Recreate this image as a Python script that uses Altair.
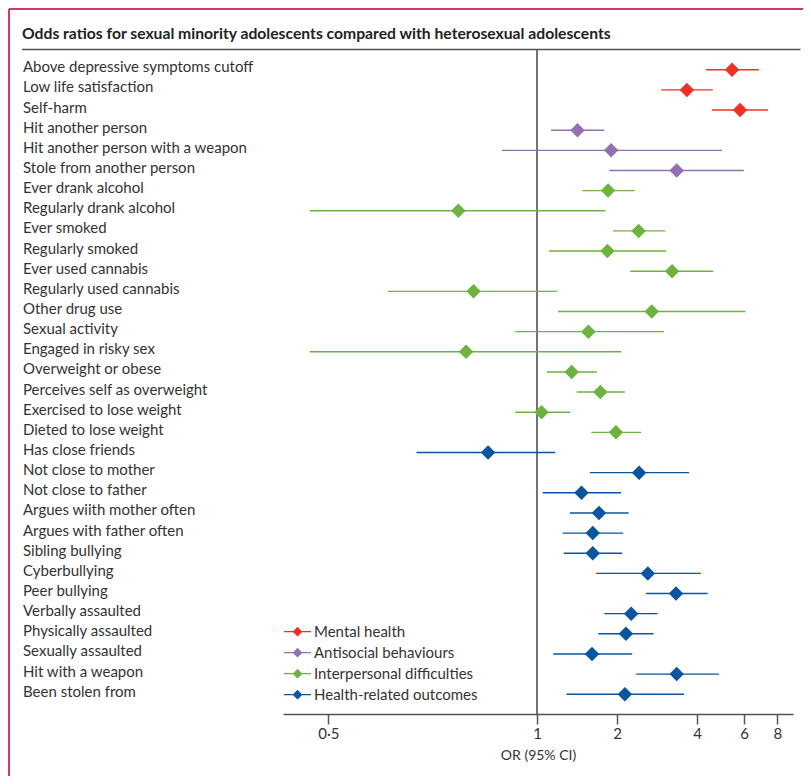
import altair as alt
import pandas as pd

title_text = "Odds ratios for sexual minority adolescents compared with heterosexual adolescents"

labels = [
    "Above depressive symptoms cutoff", "Low life satisfaction", "Self-harm",
    "Hit another person", "Hit another person with a weapon", "Stole from another person",
    "Ever drank alcohol", "Regularly drank alcohol", "Ever smoked", "Regularly smoked",
    "Ever used cannabis", "Regularly used cannabis", "Other drug use", "Sexual activity",
    "Engaged in risky sex", "Overweight or obese", "Perceives self as overweight",
    "Exercised to lose weight", "Dieted to lose weight",
    "Has close friends", "Not close to mother", "Not close to father",
    "Argues wiith mother often", "Argues with father often", "Sibling bullying",
    "Cyberbullying", "Peer bullying", "Verbally assaulted", "Physically assaulted",
    "Sexually assaulted", "Hit with a weapon", "Been stolen from",
]
groups = (["Mental health"] * 3 + ["Antisocial behaviours"] * 3 +
          ["Interpersonal difficulties"] * 13 + ["Health-related outcomes"] * 13)
odds = [5.41, 3.66, 5.80, 1.42, 1.90, 3.35, 1.85, 0.77, 2.41, 1.84, 3.22, 0.81, 2.70,
        1.56, 0.79, 1.35, 1.73, 1.04, 1.98, 0.85, 2.42, 1.47, 1.71, 1.62, 1.62, 2.61,
        3.33, 2.26, 2.16, 1.61, 3.35, 2.14]
lower = [4.32, 2.93, 4.55, 1.13, 0.89, 1.87, 1.48, 0.47, 1.93, 1.11, 2.24, 0.61, 1.20,
         0.93, 0.47, 1.09, 1.41, 0.93, 1.60, 0.67, 1.58, 1.05, 1.33, 1.25, 1.26, 1.67,
         2.57, 1.79, 1.70, 1.15, 2.36, 1.29]
upper = [6.82, 4.58, 7.39, 1.79, 4.96, 5.99, 2.33, 1.81, 3.04, 3.06, 4.60, 1.19, 6.07,
         3.00, 2.07, 1.68, 2.14, 1.33, 2.46, 1.17, 3.73, 2.07, 2.21, 2.11, 2.09, 4.13,
         4.38, 2.84, 2.74, 2.28, 4.83, 3.57]
group_order = ["Mental health", "Antisocial behaviours", "Interpersonal difficulties",
               "Health-related outcomes"]
group_colors = ["#ee3124", "#9470b2", "#6cb33f", "#0a559f"]
tick_values = [0.5, 1, 2, 4, 6, 8]

df = pd.DataFrame({"label": labels, "group": groups, "or": odds, "lo": lower, "hi": upper})
one = pd.DataFrame({"t": [title_text]})

FONT = "Lato"
W, H = 510, 664

xscale = alt.Scale(type="log", domain=[0.43, 1, 9.17], range=[0, 254, W], nice=False)
yscale = alt.Scale(type="point", domain=labels, padding=0.98)
cscale = alt.Scale(domain=group_order, range=group_colors)

xaxis = alt.Axis(values=tick_values, labelExpr="replace(toString(datum.value), '.', '·')",
                 tickSize=10, tickColor="#555", tickWidth=1.5, domainColor="#555",
                 domainWidth=1.5, labelFontSize=15, labelFont=FONT, labelColor="#333",
                 labelPadding=2, title="OR (95% CI)", titleFont=FONT, titleFontSize=14,
                 titleFontWeight="normal", titleColor="#333", titlePadding=7, grid=False)
yaxis = alt.Axis(title=None, labelAlign="left", labelPadding=260.5, ticks=False, tickSize=0,
                 domain=False, labelFontSize=15, labelFont=FONT, labelColor="#333",
                 labelBaseline="alphabetic", labelOffset=2, labelLimit=400, grid=False)

legend_path = "M-1,-0.05H1V0.05H-1Z M-0.36,0L0,-0.36L0.36,0L0,0.36Z"
legend = alt.Legend(
    title=None, orient="none", legendX=1, legendY=571.3, symbolType=legend_path,
    symbolSize=729, clipHeight=20.8, rowPadding=0, labelOffset=3, labelFontSize=15,
    labelFont=FONT, labelColor="#333", padding=0, symbolStrokeWidth=0,
    symbolOpacity=1, labelLimit=300)

frame_left = alt.Chart(one).mark_rule(color="#d7336b", strokeWidth=2).encode(
    x=alt.value(-274), y=alt.value(-41), y2=alt.value(H + 80))
frame_top = alt.Chart(one).mark_rule(color="#d7336b", strokeWidth=2).encode(
    x=alt.value(-274), x2=alt.value(W + 20), y=alt.value(-41))
title_line = alt.Chart(one).mark_rule(color="#555", strokeWidth=1.5).encode(
    x=alt.value(-261), x2=alt.value(517.5), y=alt.value(-0.5))
title = alt.Chart(one).mark_text(align="left", baseline="alphabetic", font=FONT,
                                 fontSize=15.7, fontWeight="bold", color="#222").encode(
    x=alt.value(-261), y=alt.value(-11), text="t:N")

ref = alt.Chart(one).mark_rule(color="#444", strokeWidth=1.5).encode(
    x=alt.datum(1, scale=xscale))

base = alt.Chart(df)
ci = base.mark_rule(strokeWidth=1.4).encode(
    x=alt.X("lo:Q", scale=xscale, axis=xaxis),
    x2="hi:Q",
    y=alt.Y("label:N", scale=yscale, axis=yaxis, sort=labels),
    color=alt.Color("group:N", scale=cscale, legend=legend),
)
pts = base.mark_point(shape="diamond", filled=True, size=210, opacity=1).encode(
    x=alt.X("or:Q", scale=xscale, axis=xaxis),
    y=alt.Y("label:N", scale=yscale, axis=yaxis, sort=labels),
    color=alt.Color("group:N", scale=cscale, legend=legend),
)

chart = alt.layer(frame_left, frame_top, title_line, title, ref, ci, pts).properties(
    width=W, height=H,
    padding={"left": 275, "top": 42, "right": 10, "bottom": 62},
    autosize=alt.AutoSizeParams(type="none"),
).configure_view(stroke=None).resolve_scale(x="shared", y="shared")

chart.save("out.html", embed_options={"renderer": "svg", "actions": False})
